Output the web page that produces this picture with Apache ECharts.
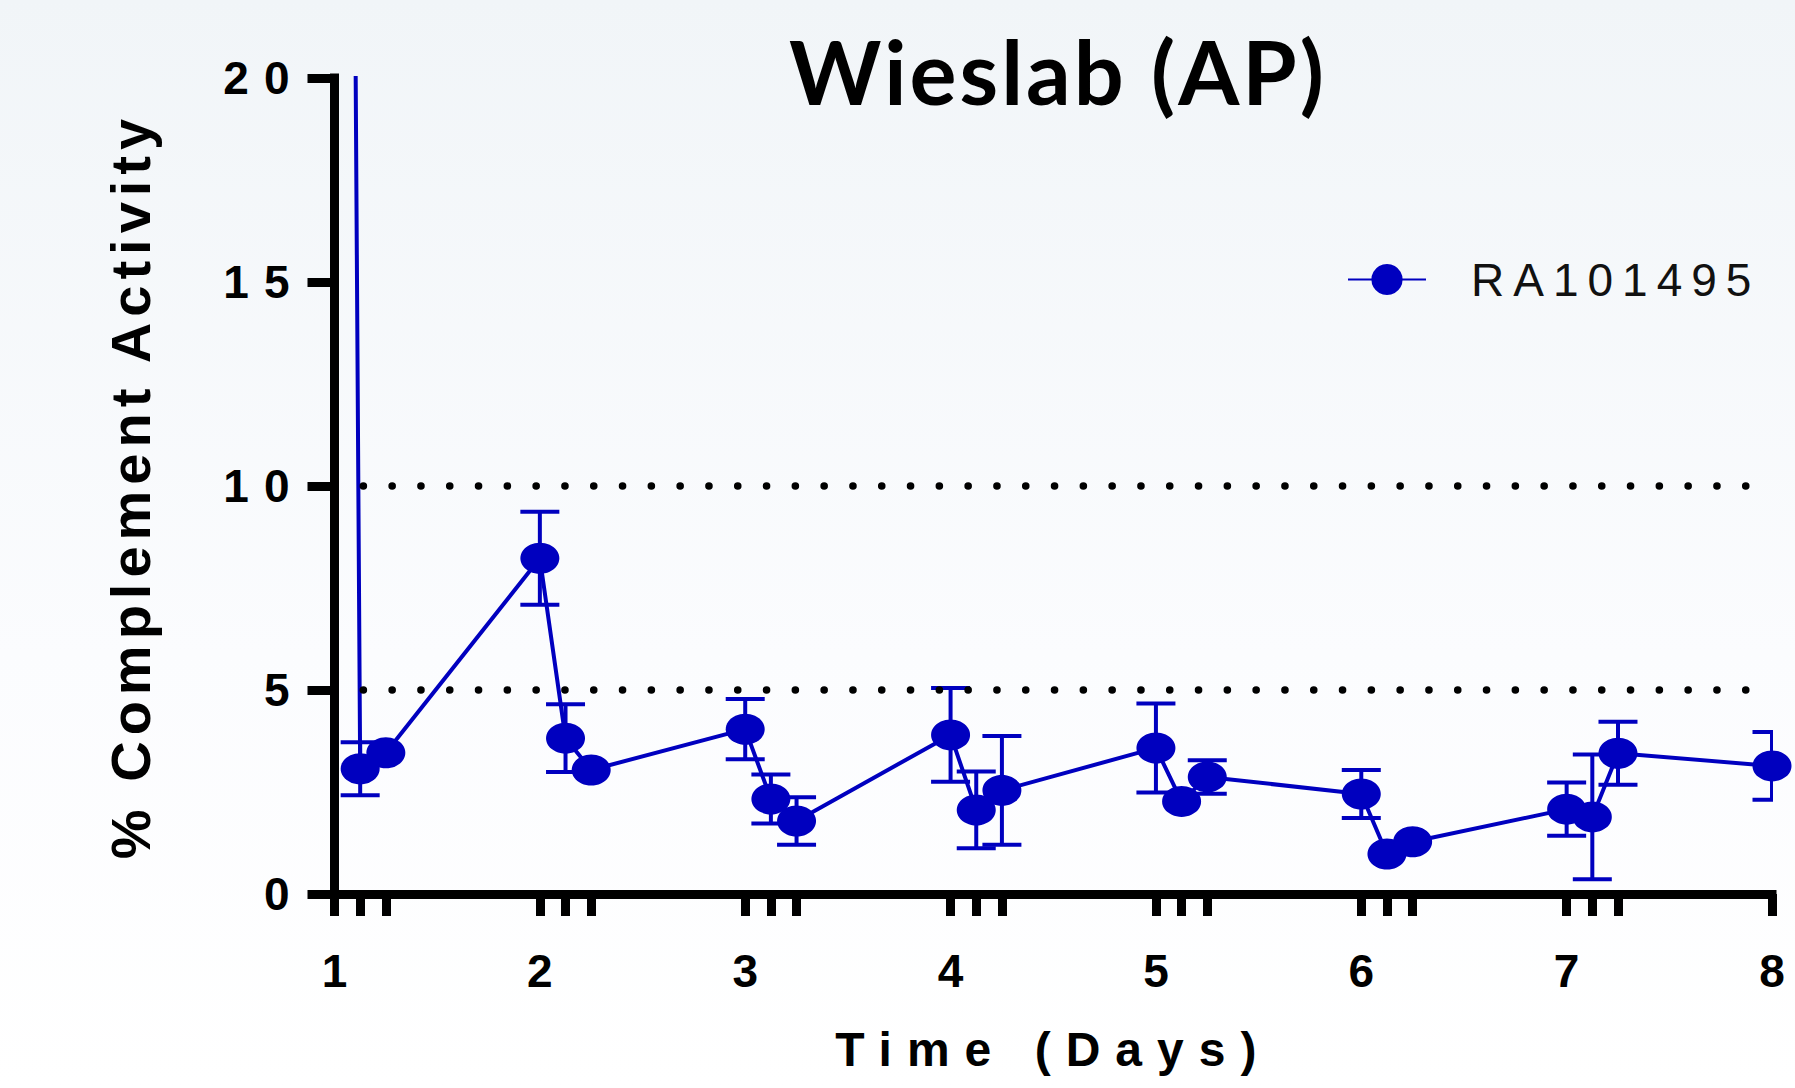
<!DOCTYPE html>
<html>
<head>
<meta charset="utf-8">
<script src="https://cdn.jsdelivr.net/npm/echarts@6/dist/echarts.min.js"></script>
<style>
html,body{margin:0;padding:0;background:#fff;}
#chart{width:1795px;height:1088px;}
</style>
</head>
<body>
<div id="chart"></div>
<script>
// ---- data ----
const titleText = 'Wieslab (AP)';
const seriesName = 'RA101495';
const xAxisTitle = 'Time (Days)';
const yAxisTitle = '% Complement Activity';
const times  = [1, 1.125, 1.25, 2, 2.125, 2.25, 3, 3.125, 3.25, 4, 4.125, 4.25, 5, 5.125, 5.25, 6, 6.125, 6.25, 7, 7.125, 7.25, 8];
const values = [100, 3.07, 3.46, 8.23, 3.82, 3.04, 4.04, 2.33, 1.79, 3.90, 2.06, 2.54, 3.58, 2.27, 2.87, 2.45, 0.98, 1.28, 2.08, 1.89, 3.45, 3.14];
const errors = [0, 0.65, 0, 1.14, 0.83, 0, 0.74, 0.60, 0.58, 1.15, 0.94, 1.33, 1.09, 0, 0.41, 0.59, 0, 0, 0.65, 1.53, 0.77, 0.83];
const xTickLabels = [1, 2, 3, 4, 5, 6, 7, 8];
const yTicks = [0, 5, 10, 15, 20];
const refLines = [5, 10];

// ---- styling ----
const BLUE = '#0000BF';
const FONT = '"Liberation Sans", Arial, Helvetica, sans-serif';

const chart = echarts.init(document.getElementById('chart'), null, {renderer: 'svg'});

const option = {
  animation: false,
  backgroundColor: {
    type: 'linear', x: 0, y: 0, x2: 0, y2: 1,
    colorStops: [
      {offset: 0, color: '#F1F5F8'},
      {offset: 0.6, color: '#FBFCFE'},
      {offset: 1, color: '#FFFFFF'}
    ]
  },
  title: {
    text: titleText,
    left: 1053,
    textAlign: 'center',
    top: 22,
    textStyle: {fontFamily: 'Lato, "Open Sans", sans-serif', fontWeight: 'bold', fontSize: 88, color: '#000'}
  },
  legend: {
    data: [seriesName],
    left: 1347,
    top: 276 - 19.5,
    padding: 0,
    itemWidth: 78,
    itemHeight: 39,
    selectedMode: false,
    textStyle: {fontFamily: FONT, fontSize: 46, color: '#111', padding: [0, 0, 0, 40]}
  },
  grid: {left: 334.5, right: 23, top: 78, bottom: 194, containLabel: false},
  xAxis: {
    type: 'value',
    min: xTickLabels[0],
    max: xTickLabels[xTickLabels.length - 1],
    interval: 1,
    name: xAxisTitle,
    nameLocation: 'middle',
    nameGap: 131,
    nameTextStyle: {fontFamily: FONT, fontWeight: 'bold', fontSize: 48, color: '#000'},
    axisLine: {lineStyle: {color: '#000', width: 9, cap: 'square'}},
    axisTick: {show: true, length: 22, lineStyle: {color: '#000', width: 9}, customValues: times},
    axisLabel: {margin: 54, fontFamily: FONT, fontWeight: 'bold', fontSize: 46, color: '#000', customValues: xTickLabels},
    splitLine: {show: false}
  },
  yAxis: {
    type: 'value',
    min: yTicks[0],
    max: yTicks[yTicks.length - 1],
    interval: yTicks[1] - yTicks[0],
    name: yAxisTitle,
    nameLocation: 'middle',
    nameRotate: 90,
    nameGap: 176,
    nameTextStyle: {fontFamily: FONT, fontWeight: 'bold', fontSize: 56, color: '#000'},
    axisLine: {show: true, lineStyle: {color: '#000', width: 9, cap: 'square'}},
    axisTick: {show: true, length: 27, lineStyle: {color: '#000', width: 9}},
    axisLabel: {margin: 30, fontFamily: FONT, fontWeight: 'bold', fontSize: 46, color: '#000'},
    splitLine: {show: false}
  },
  series: [
    {
      type: 'custom',
      name: 'error',
      clip: true,
      z: 2,
      silent: true,
      data: times.map((t, i) => [t, values[i], errors[i]]),
      encode: {x: 0, y: 1},
      renderItem: function (params, api) {
        const x = api.value(0), v = api.value(1), e = api.value(2);
        if (!e) return null;
        const top = api.coord([x, v + e]);
        const bot = api.coord([x, v - e]);
        const hw = 19.5;
        const st = {stroke: BLUE, lineWidth: 4, fill: null};
        return {
          type: 'group',
          children: [
            {type: 'line', shape: {x1: top[0], y1: top[1], x2: bot[0], y2: bot[1]}, style: st},
            {type: 'line', shape: {x1: top[0] - hw, y1: top[1], x2: top[0] + hw, y2: top[1]}, style: st},
            {type: 'line', shape: {x1: bot[0] - hw, y1: bot[1], x2: bot[0] + hw, y2: bot[1]}, style: st}
          ]
        };
      }
    },
    {
      type: 'line',
      name: seriesName,
      data: times.map((t, i) => [t, values[i]]),
      symbol: 'circle',
      symbolSize: [39, 31],
      clip: true,
      z: 3,
      lineStyle: {color: BLUE, width: 4},
      itemStyle: {color: BLUE},
      emphasis: {disabled: true},
      markLine: {
        silent: true,
        symbol: 'none',
        label: {show: false},
        emphasis: {disabled: true},
        lineStyle: {color: '#000', width: 7.5, type: [0.1, 28.7], cap: 'round'},
        data: refLines.map(v => ({yAxis: v}))
      }
    }
  ]
};

chart.setOption(option);

function applySpacing() {
  const spacing = {};
  spacing[yAxisTitle] = '6px';
  spacing[xAxisTitle] = '15px';
  spacing[seriesName] = '9px';
  spacing[titleText] = '3px';
  document.querySelectorAll('#chart svg text').forEach(function (t) {
    const s = (t.textContent || '').trim();
    if (spacing[s]) {
      t.style.letterSpacing = spacing[s];
    } else if (/^\d+$/.test(s) && t.getAttribute('text-anchor') === 'end') {
      t.style.letterSpacing = '15px';
    }
  });
}
applySpacing();
chart.on('finished', applySpacing);
setTimeout(applySpacing, 50);
</script>
</body>
</html>
